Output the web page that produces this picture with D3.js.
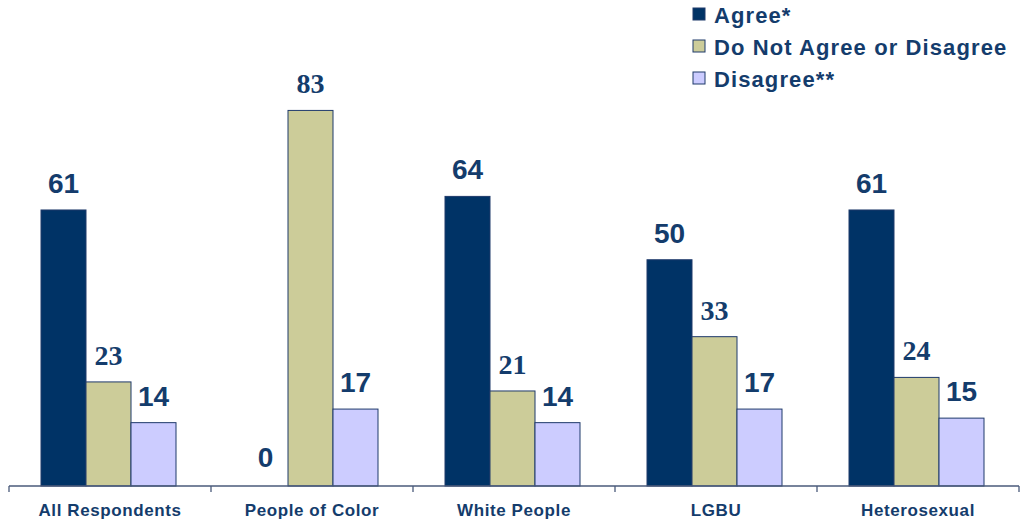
<!DOCTYPE html>
<html><head><meta charset="utf-8">
<script src="https://cdn.jsdelivr.net/npm/d3@7"></script>
<style>body{margin:0;background:#fff}svg{display:block}</style>
</head><body>
<script>
const categories = ["All Respondents","People of Color","White People","LGBU","Heterosexual"];
const seriesNames = ["Agree*","Do Not Agree or Disagree","Disagree**"];
const agree = [61,0,64,50,61];
const neutral = [23,83,21,33,24];
const disagree = [14,17,14,17,15];
const seriesValues = [agree, neutral, disagree];
const colors = ["#003366","#CCCC99","#CCCCFF"];
const labelFonts = ["Liberation Sans, Arial, sans-serif","Liberation Serif, Times New Roman, serif","Liberation Sans, Arial, sans-serif"];
const textColor = "#143C6C";

const W=1021,H=523;
const svg=d3.select("body").append("svg").attr("width",W).attr("height",H);
const x0=d3.scaleBand().domain(categories).range([9,1019]).paddingInner(0).paddingOuter(0);
const x1=d3.scaleBand().domain(d3.range(3)).range([32,167]);
const y=d3.scaleLinear().domain([0,100]).range([486,33.5]);

const g=svg.selectAll("g.grp").data(categories).join("g").attr("class","grp")
  .attr("transform",d=>`translate(${x0(d)},0)`);
seriesValues.forEach((vals,si)=>{
  g.append("rect")
    .attr("x",x1(si)).attr("width",x1.bandwidth())
    .attr("y",(d,i)=>y(vals[i])).attr("height",(d,i)=>y(0)-y(vals[i]))
    .attr("fill",colors[si]).attr("stroke","#1F3A6B").attr("stroke-width",1)
    .attr("display",(d,i)=>vals[i]>0?null:"none");
  g.append("text")
    .attr("x",x1(si)+x1.bandwidth()/2)
    .attr("y",(d,i)=>y(vals[i])-(vals[i]>0?17:19))
    .attr("text-anchor","middle")
    .attr("font-family",labelFonts[si]).attr("font-weight","bold").attr("font-size",28)
    .attr("fill",textColor)
    .text((d,i)=>vals[i]);
});

// axis
const axis=svg.append("g").attr("transform","translate(0,486)");
axis.append("line").attr("x1",9).attr("x2",1019).attr("stroke","#4a5a7a").attr("stroke-width",1.3);
const ticks=categories.map(c=>x0(c)).concat([x0.range()[1]]);
axis.selectAll("line.t").data(ticks).join("line").attr("class","t")
  .attr("x1",d=>d).attr("x2",d=>d).attr("y1",0).attr("y2",6).attr("stroke","#4a5a7a").attr("stroke-width",1.3);
axis.selectAll("text").data(categories).join("text")
  .attr("x",d=>x0(d)+x0.bandwidth()/2).attr("y",30)
  .attr("text-anchor","middle").attr("font-family","Liberation Sans, Arial, sans-serif")
  .attr("font-weight","bold").attr("font-size",17).attr("letter-spacing",0.6).attr("fill",textColor).text(d=>d);

// legend
const lg=svg.append("g");
seriesNames.forEach((n,i)=>{
  const yy=15+i*32;
  lg.append("rect").attr("x",693).attr("y",yy-7).attr("width",12).attr("height",12)
    .attr("fill",colors[i]).attr("stroke","#1F3A6B").attr("stroke-width",1);
  lg.append("text").attr("x",714).attr("y",yy+8).attr("font-family","Liberation Sans, Arial, sans-serif")
    .attr("font-weight","bold").attr("font-size",22).attr("letter-spacing",1.1).attr("fill",textColor).text(n);
});
</script>
</body></html>
